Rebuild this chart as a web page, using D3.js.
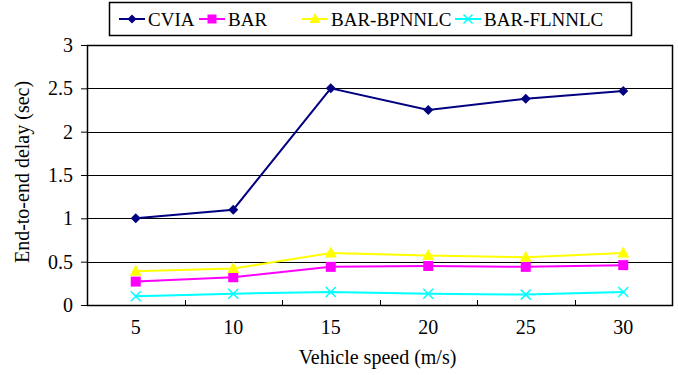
<!DOCTYPE html>
<html>
<head>
<meta charset="utf-8">
<script src="https://cdn.jsdelivr.net/npm/d3@7"></script>
</head>
<body style="margin:0">
<svg id="plot" width="678" height="375" font-family="Liberation Serif"></svg>
<script>
// data
const speeds = [5, 10, 15, 20, 25, 30];
const seriesNames = ['CVIA', 'BAR', 'BAR-BPNNLC', 'BAR-FLNNLC'];
const cvia = [1.0, 1.1, 2.5, 2.25, 2.38, 2.47];
const bar = [0.27, 0.32, 0.44, 0.45, 0.44, 0.46];
const bpnnlc = [0.39, 0.42, 0.60, 0.57, 0.55, 0.60];
const flnnlc = [0.10, 0.13, 0.15, 0.13, 0.12, 0.15];
const yTicks = [0, 0.5, 1, 1.5, 2, 2.5, 3];

const colors = ['#000080', '#ff00ff', '#ffff00', '#00ffff'];
const shapes = ['diamond', 'square', 'triangle', 'cross'];
const allValues = [cvia, bar, bpnnlc, flnnlc];

const svg = d3.select('#plot');
const margin = {left: 87, right: 6, top: 45, bottom: 70};
const width = 678 - margin.left - margin.right;
const height = 375 - margin.top - margin.bottom;

const x = d3.scaleBand().domain(speeds).range([0, width]);
const y = d3.scaleLinear().domain([0, 3]).range([height, 0]);

let g = svg.append('g').attr('transform', 'translate(' + margin.left + ',' + margin.top + ')');

// gridlines
g.append('g').selectAll('line')
    .data(yTicks.slice(1, -1))
    .enter().append('line')
    .attr('x1', 0).attr('x2', width)
    .attr('y1', d => Math.round(y(d)) + 0.5).attr('y2', d => Math.round(y(d)) + 0.5)
    .attr('stroke', '#000').attr('stroke-width', 1);

// plot frame
g.append('rect')
    .attr('x', 0.5).attr('y', 0.5)
    .attr('width', width).attr('height', height)
    .attr('fill', 'none').attr('stroke', '#000').attr('stroke-width', 1.5);

// y axis
let yAxis = g.append('g')
    .call(d3.axisLeft(y).tickValues(yTicks).tickFormat(d3.format('')).tickSize(6).tickPadding(8));
yAxis.attr('font-family', 'Liberation Serif').attr('font-size', 20);
yAxis.select('.domain').remove();
yAxis.selectAll('line').attr('stroke', '#000');
yAxis.selectAll('text').attr('fill', '#000');

// x axis: ticks sit between categories, pointing inward
let xAxis = g.append('g').attr('transform', 'translate(0,' + height + ')');
xAxis.selectAll('line')
    .data(speeds.slice(1))
    .enter().append('line')
    .attr('x1', d => Math.round(x(d)) + 0.5).attr('x2', d => Math.round(x(d)) + 0.5)
    .attr('y1', 0).attr('y2', -5)
    .attr('stroke', '#000');
xAxis.selectAll('text')
    .data(speeds)
    .enter().append('text')
    .attr('x', d => x(d) + x.bandwidth() / 2)
    .attr('y', 29)
    .attr('text-anchor', 'middle')
    .attr('font-size', 20)
    .text(d => d);

// axis titles
svg.append('text')
    .attr('x', margin.left + width / 2 - 2)
    .attr('y', 364)
    .attr('text-anchor', 'middle')
    .attr('font-size', 20)
    .text('Vehicle speed (m/s)');
svg.append('text')
    .attr('transform', 'translate(29,' + (margin.top + height / 2 - 3) + ') rotate(-90)')
    .attr('text-anchor', 'middle')
    .attr('font-size', 20)
    .text('End-to-end delay (sec)');

function drawMarker(sel, shape, color, size) {
    let s = size / 2;
    if (shape === 'cross') {
        sel.append('path')
            .attr('d', 'M' + (-s) + ',' + (-s) + 'L' + s + ',' + s + 'M' + (-s) + ',' + s + 'L' + s + ',' + (-s))
            .attr('stroke', color).attr('stroke-width', 1.5).attr('fill', 'none');
    } else if (shape === 'diamond') {
        sel.append('path')
            .attr('d', 'M0,' + (-s) + 'L' + s + ',0L0,' + s + 'L' + (-s) + ',0Z')
            .attr('fill', color);
    } else if (shape === 'square') {
        sel.append('rect')
            .attr('x', -s).attr('y', -s)
            .attr('width', size).attr('height', size)
            .attr('fill', color);
    } else {
        sel.append('path')
            .attr('d', 'M0,' + (-s - 1) + 'L' + (s + 0.5) + ',' + (s - 1) + 'L' + (-s - 0.5) + ',' + (s - 1) + 'Z')
            .attr('fill', color);
    }
}

const markerSizes = [10, 10, 11, 10];

// series lines and markers
let line = d3.line()
    .x((d, i) => x(speeds[i]) + x.bandwidth() / 2)
    .y(d => y(d));

allValues.forEach((vals, k) => {
    g.append('path')
        .datum(vals)
        .attr('d', line)
        .attr('fill', 'none')
        .attr('stroke', colors[k])
        .attr('stroke-width', 2);
});
allValues.forEach((vals, k) => {
    vals.forEach((v, i) => {
        let m = g.append('g')
            .attr('transform', 'translate(' + (x(speeds[i]) + x.bandwidth() / 2) + ',' + y(v) + ')');
        drawMarker(m, shapes[k], colors[k], markerSizes[k]);
    });
});

// legend
let legend = svg.append('g');
legend.append('rect')
    .attr('x', 109.5).attr('y', 2.5)
    .attr('width', 522).attr('height', 33)
    .attr('fill', '#fff').attr('stroke', '#000').attr('stroke-width', 1.5);
const legendX = [119, 199, 302, 455];
seriesNames.forEach((name, k) => {
    let item = legend.append('g').attr('transform', 'translate(' + legendX[k] + ',19)');
    item.append('line')
        .attr('x1', 0).attr('x2', 26)
        .attr('stroke', colors[k]).attr('stroke-width', 2);
    let m = item.append('g').attr('transform', 'translate(13,0)');
    drawMarker(m, shapes[k], colors[k], markerSizes[k] - 1);
    item.append('text')
        .attr('x', 29).attr('y', 7)
        .attr('font-size', 19)
        .text(name);
});
</script>
</body>
</html>
